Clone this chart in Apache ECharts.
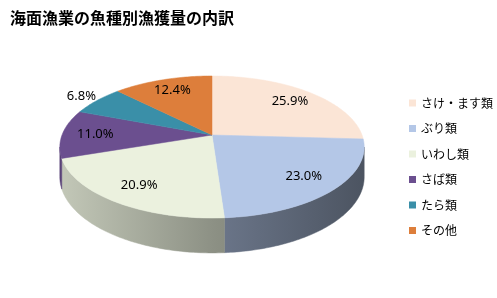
<!DOCTYPE html>
<html>
<head>
<meta charset="utf-8">
<script src="https://cdn.jsdelivr.net/npm/echarts@6/dist/echarts.min.js"></script>
<style>
html,body{margin:0;padding:0;background:#fff;}
#main{width:497px;height:298px;}
</style>
</head>
<body>
<div id="main"></div>
<script>
// ---- data ----
const title = '海面漁業の魚種別漁獲量の内訳';
const categories = ['さけ・ます類', 'ぶり類', 'いわし類', 'さば類', 'たら類', 'その他'];
const values = [25.9, 23.0, 20.9, 11.0, 6.8, 12.4];
const colors = ['#FBE5D6', '#B4C7E7', '#EBF1DE', '#6B4F8F', '#3A8FA8', '#DD7E3B'];

// ---- geometry of the tilted pie ----
const CX = 212, CY = 135;      // apex of the pie
const A = 150, B = 69, K = 0.169, DEPTH = 29;

function proj(theta, r) {
  const u = r * Math.sin(theta), v = r * Math.cos(theta);
  const d = 1 + K * v;
  return [CX + A * u / d, CY - B * v / d];
}
function shade(hex, f) {
  const n = parseInt(hex.slice(1), 16);
  const r = Math.round(((n >> 16) & 255) * f);
  const g = Math.round(((n >> 8) & 255) * f);
  const b = Math.round((n & 255) * f);
  return 'rgb(' + r + ',' + g + ',' + b + ')';
}

const total = values.reduce((a, b) => a + b, 0);
const starts = [];
let acc = 0;
values.forEach(v => { starts.push(acc); acc += v; });

const visA = Math.acos(-K), visB = 2 * Math.PI - Math.acos(-K);

function makeRender(i) {
  return function (params, api) {
    const val = api.value(0);
    const a0 = starts[i] / total * 2 * Math.PI;
    const a1 = a0 + val / total * 2 * Math.PI;
    const children = [];
    // side wall (one polygon with horizontal lighting gradient)
    const s = Math.max(a0, visA), e = Math.min(a1, visB);
    if (e > s) {
      const n = Math.max(2, Math.ceil((e - s) / (Math.PI / 180)));
      const topPts = [], botPts = [];
      for (let j = 0; j <= n; j++) {
        const t = s + (e - s) * j / n;
        const p = proj(t, 1);
        const d = DEPTH / (1 + K * Math.cos(t));
        topPts.push(p);
        botPts.push([p[0], p[1] + d]);
      }
      const grad = {
        type: 'linear', x: CX - A * 1.015, y: 0, x2: CX + A * 1.015, y2: 0, global: true,
        colorStops: [
          { offset: 0, color: shade(colors[i], 0.83) },
          { offset: 0.5, color: shade(colors[i], 0.6) },
          { offset: 1, color: shade(colors[i], 0.42) }
        ]
      };
      children.push({
        type: 'polygon',
        shape: { points: topPts.concat(botPts.reverse()) },
        style: { fill: grad, stroke: grad, lineWidth: 0.5 }
      });
    }
    // top face
    const pts = [[CX, CY]];
    const m = Math.max(2, Math.ceil((a1 - a0) / (Math.PI / 180)));
    for (let j = 0; j <= m; j++) pts.push(proj(a0 + (a1 - a0) * j / m, 1));
    children.push({
      type: 'polygon',
      shape: { points: pts },
      style: { fill: colors[i], stroke: colors[i], lineWidth: 0.5 },
      z2: 5
    });
    // label
    const mid = (a0 + a1) / 2;
    const lp = proj(mid, val < 8 ? 1.15 : 0.78);
    children.push({
      type: 'text',
      style: {
        text: val.toFixed(1) + '%', x: lp[0], y: lp[1],
        align: 'center', verticalAlign: 'middle',
        fill: '#000', font: '13px "Noto Sans", sans-serif'
      },
      z2: 10
    });
    return { type: 'group', children: children };
  };
}

const series = categories.map((name, i) => ({
  type: 'custom',
  name: name,
  coordinateSystem: 'none',
  itemStyle: { color: colors[i] },
  data: [[values[i]]],
  renderItem: makeRender(i),
  animation: false
}));

const chart = echarts.init(document.getElementById('main'), null, { renderer: 'canvas' });
chart.setOption({
  animation: false,
  backgroundColor: '#fff',
  title: {
    text: title, left: 10, top: 10, padding: 0,
    textStyle: { fontSize: 16, fontWeight: 'bold', color: '#000', fontFamily: '"Noto Sans CJK JP", sans-serif' }
  },
  legend: {
    data: categories,
    orient: 'vertical',
    left: 409, top: 96, padding: 0,
    icon: 'rect', itemWidth: 7, itemHeight: 7, itemGap: 11.5,
    textStyle: { fontSize: 12, lineHeight: 14, color: '#000', fontFamily: '"Noto Sans CJK JP", sans-serif' }
  },
  series: series
});
</script>
</body>
</html>
